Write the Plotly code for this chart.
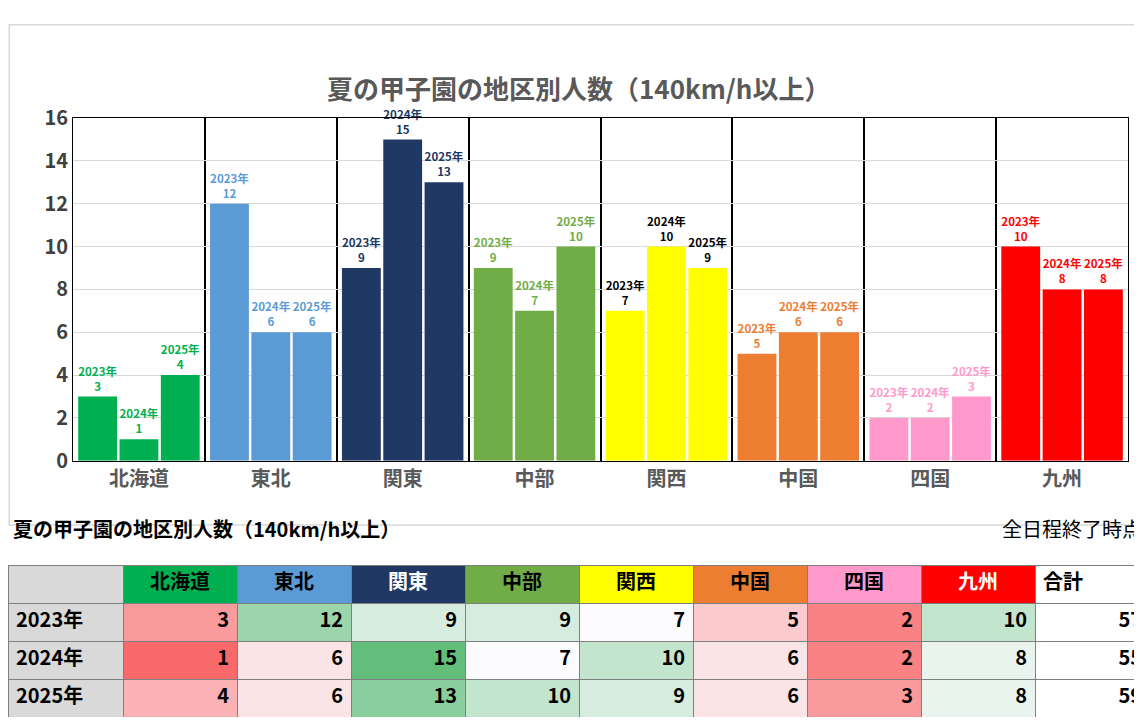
import plotly.graph_objects as go

regions = ["北海道", "東北", "関東", "中部", "関西", "中国", "四国", "九州"]
years = ["2023年", "2024年", "2025年"]
v2023 = [3, 12, 9, 9, 7, 5, 2, 10]
v2024 = [1, 6, 15, 7, 10, 6, 2, 8]
v2025 = [4, 6, 13, 10, 9, 6, 3, 8]
bar_colors = ["#00b050", "#5b9bd5", "#203864", "#70ad47", "#ffff00", "#ed7d31", "#ff99cc", "#ff0000"]
label_colors = ["#00b050", "#5b9bd5", "#203864", "#70ad47", "#000000", "#ed7d31", "#ff99cc", "#ff0000"]
header_text_colors = ["black", "black", "white", "black", "black", "black", "black", "white"]
title = "夏の甲子園の地区別人数（140km/h以上）"
FONT = "Noto Sans CJK JP"

series = [v2023, v2024, v2025]
fig = go.Figure()
for yr, vals in zip(years, series):
    fig.add_trace(go.Bar(
        x=regions, y=vals, name=yr, marker=dict(color=bar_colors, line_width=0),
        text=[f"{yr}<br>{v}" for v in vals], texttemplate="%{text}",
        textposition="outside", cliponaxis=False,
        textfont=dict(family=FONT, size=12, color=label_colors, weight="bold"),
    ))

# heatmap colours (Excel-like 3-colour scale)
allv = sorted(v2023 + v2024 + v2025)
vmin, vmax = allv[0], allv[-1]
vmid = (allv[11] + allv[12]) / 2
def lerp(c1, c2, t):
    return "rgb(%d,%d,%d)" % tuple(round(a + (b - a) * t) for a, b in zip(c1, c2))
def cscale(v):
    red, white, green = (248, 105, 107), (252, 252, 255), (99, 190, 123)
    if v <= vmid:
        return lerp(red, white, (v - vmin) / (vmid - vmin))
    return lerp(white, green, (v - vmid) / (vmax - vmid))

totals = [sum(s) for s in series]
cols = [years] + [[s[i] for s in series] for i in range(len(regions))] + [totals]
fills = [["#d9d9d9"] * 3] + [[cscale(s[i]) for s in series] for i in range(len(regions))] + [["white"] * 3]
fig.add_trace(go.Table(
    domain=dict(x=[0, 1], y=[0.0, 0.218]),
    columnwidth=[115] + [114] * 8 + [115],
    header=dict(values=[""] + regions + ["合計"], height=38,
                fill_color=["#d9d9d9"] + bar_colors + ["white"],
                line_color="#7f7f7f", align=["center"] * 9 + ["left"],
                font=dict(family=FONT, size=20, color=["black"] + header_text_colors + ["black"], weight="bold")),
    cells=dict(values=cols, height=38, fill_color=fills, line_color="#7f7f7f",
               align=["left"] + ["right"] * 9,
               font=dict(family=FONT, size=20, color="black", weight="bold")),
))

fig.update_layout(
    width=1142, height=722, margin=dict(l=0, r=0, t=0, b=0),
    paper_bgcolor="white", plot_bgcolor="white", showlegend=False,
    barmode="group", bargap=0.06, bargroupgap=0.06,
    font=dict(family=FONT),
    xaxis=dict(domain=[65/1142, 1120/1142], showgrid=True, gridcolor="black", gridwidth=1.5,
               tickson="boundaries", showline=True, linecolor="black", mirror=True, ticks="",
               tickfont=dict(size=20, color="#595959", weight="bold")),
    yaxis=dict(domain=[1-455/722, 1-98/722], range=[0, 16], dtick=2, showgrid=True,
               gridcolor="#d9d9d9", showline=True, linecolor="black", mirror=True,
               zeroline=False, tickfont=dict(size=20, color="#404040", weight="bold")),
    annotations=[
        dict(text=title, x=0.5, y=1-45/722, xref="paper", yref="paper", showarrow=False,
             font=dict(size=26, color="#595959", weight="bold")),
        dict(text=title, x=0.003, y=1-543/722, xref="paper", yref="paper", showarrow=False,
             xanchor="left", font=dict(size=20, color="black", weight="bold")),
        dict(text="全日程終了時点", x=0.995, y=1-543/722, xref="paper", yref="paper", showarrow=False,
             xanchor="right", font=dict(size=20, color="black")),
    ],
    shapes=[dict(type="rect", xref="paper", yref="paper", x0=0.001, x1=0.999, y0=1-522/722, y1=0.999,
                 line=dict(color="#d9d9d9", width=1.5))],
)
fig.write_html("out.html")
